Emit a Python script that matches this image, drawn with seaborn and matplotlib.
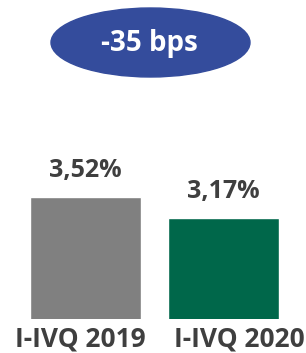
import pandas as pd
import matplotlib.pyplot as plt
import matplotlib.transforms as mtransforms
import seaborn as sns
from matplotlib.patches import Ellipse

sns.set_theme(style="white")
plt.rcParams['font.family'] = ['Open Sans', 'DejaVu Sans']

periods = ["I-IVQ 2019", "I-IVQ 2020"]
rates = [3.52, 3.17]
rate_labels = ["3,52%", "3,17%"]
change_label = "-35 bps"
bar_colors = ["#808080", "#00674A"]

df = pd.DataFrame({"period": periods, "rate": rates})

W, H = 306, 353
fig = plt.figure(figsize=(W / 100, H / 100), dpi=100)

# bar area: baseline 34 px above the bottom edge
ax = fig.add_axes([0, 34 / H, 1, (H - 34) / H])
sns.barplot(data=df, x="period", y="rate", hue="period", palette=bar_colors,
            width=0.8, legend=False, ax=ax, saturation=1)
ax.set_xlim(-0.62, 1.598)
ax.set_ylim(1.49, 1.49 + (H - 34) / 60.1)
ax.set_xlabel("")
ax.set_ylabel("")
ax.set_yticks([])
for s in ax.spines.values():
    s.set_visible(False)
ax.tick_params(axis="x", length=0, pad=5, labelsize=19, labelcolor="#3F3F3F")
# labels sit a bit apart from the bar centres in the original
shifts = [-5.5, 16]
for lbl, dx in zip(ax.get_xticklabels(), shifts):
    lbl.set_fontweight("bold")
    lbl.set_transform(lbl.get_transform() +
                      mtransforms.ScaledTranslation(dx / 100, 0, fig.dpi_scale_trans))

for cont, txt in zip(ax.containers, rate_labels):
    ax.bar_label(cont, labels=[txt], padding=10, fontsize=18, fontweight="bold",
                 color="#3F3F3F")

# badge on top
ov = fig.add_axes([0, 0, 1, 1], zorder=5)
ov.set_xlim(0, W)
ov.set_ylim(0, H)
ov.axis("off")
ov.add_patch(Ellipse((150.5, H - 42.5), 199, 69, color="#344C9C"))
ov.text(149, H - 44, change_label, ha="center", va="center", color="white",
        fontsize=20, fontweight="bold")

fig.savefig("out.png", dpi=100)
